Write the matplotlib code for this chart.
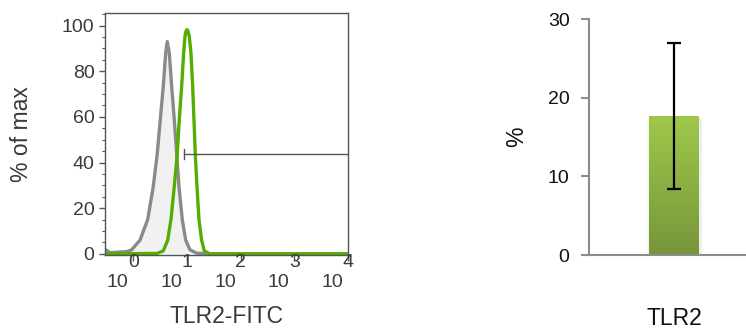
import numpy as np
import matplotlib
matplotlib.use("Agg")
import matplotlib.pyplot as plt
from matplotlib.transforms import blended_transform_factory

plt.rcParams['font.family'] = ['Liberation Sans', 'DejaVu Sans']

# Histogram traces (fluorescence intensity, % of max)
iso_x = [0.297, 0.368, 0.565, 0.763, 0.934, 1.333, 1.854, 2.357, 2.798, 3.184,
         3.621, 4.012, 4.297, 4.682, 5.189, 5.801, 6.431, 7.096, 8.176, 9.459,
         11.37, 15.16, 30.0, 10000]
iso_y = [2.0, 0.5, 0.8, 1.0, 1.8, 6, 15, 29.5, 44, 58.8,
         73.4, 88, 93, 88, 73.4, 58.8, 44, 29.5, 15, 6,
         1.8, 0.3, 0, 0]

tlr2_x = [0.297, 2.8, 3.621, 4.371, 5.035, 5.801, 6.598, 7.188, 7.966, 8.680,
          9.180, 9.6, 10.0, 10.45, 11.04, 11.87, 12.77, 13.50, 14.27, 15.36,
          16.73, 18.78, 21.00, 26.81, 10000]
tlr2_y = [0, 0.2, 1.3, 6, 15, 29.5, 44, 58.8, 73.4, 88,
          95.3, 97.6, 98.2, 97.6, 95.3, 88, 73.4, 58.8, 44, 29.5,
          15, 6, 1.3, 0, 0]

gate_range = [8.9, 10000]
gate_level = 43.7

decades = [0, 1, 2, 3, 4]

# Summary bar
bar_labels = ['TLR2']
bar_means = [17.7]
bar_errs = [9.3]

fig = plt.figure(figsize=(7.46, 3.3), dpi=100)

# ---- histogram panel ----
ax = fig.add_axes([105/746, 1-255/330, 243/746, 242/330])
txt = '#3a3a3a'
ax.fill_between(iso_x, iso_y, 0, color='#f1f1f1', lw=0)
ax.plot(iso_x, iso_y, color='#8a8a8a', lw=2.4, solid_joinstyle='round')
ax.plot(tlr2_x, tlr2_y, color='#55ad00', lw=2.4, solid_joinstyle='round')
ax.plot(gate_range, [gate_level]*2, color='#555555', lw=1)
ax.plot([gate_range[0]]*2, [gate_level-2.3, gate_level+2.3], color='#555555', lw=1)

ax.set_xscale('log')
ax.set_xlim(10**-0.527, 10**4)
ax.set_ylim(-0.5, 105.5)
ax.set_yticks([0, 20, 40, 60, 80, 100])
ax.set_yticks(np.arange(0, 106, 5), minor=True)
ax.set_xticks([10**d for d in decades])
ax.set_xticklabels([''] * len(decades))
ax.xaxis.set_minor_locator(matplotlib.ticker.LogLocator(base=10, subs=np.arange(2, 10)))
ax.xaxis.set_minor_formatter(matplotlib.ticker.NullFormatter())
ax.tick_params(axis='both', which='major', length=4.5, width=1, color='#555555',
               labelsize=14, labelcolor=txt, pad=3)
ax.tick_params(axis='both', which='minor', length=2.5, width=0.8, color='#555555')
for s in ax.spines.values():
    s.set_color('#555555')
    s.set_linewidth(1)

tr = blended_transform_factory(ax.transData, ax.transAxes)
for d in decades:
    ax.annotate('10', xy=(10**d, 0), xycoords=tr, xytext=(-3.5, -20),
                textcoords='offset points', ha='right', va='center',
                fontsize=14, color=txt, annotation_clip=False)
    ax.annotate(str(d), xy=(10**d, 0), xycoords=tr, xytext=(0, -5.5),
                textcoords='offset points', ha='center', va='center',
                fontsize=14, color=txt, annotation_clip=False)

ax.set_xlabel('TLR2-FITC', fontsize=16.5, color=txt, va='center')
ax.xaxis.set_label_coords(0.5, -0.256)
ax.set_ylabel('% of max', fontsize=16.5, color=txt, va='center')
ax.yaxis.set_label_coords(-0.342, 0.5)

# ---- bar panel ----
bx = fig.add_axes([589/746, 1-255/330, 157/746, 236/330])
xpos = np.arange(len(bar_labels))
w = 0.6
bars = bx.bar(xpos, bar_means, width=w, color='none', zorder=2)

# soft shadow at the sides of the bar
for b, m in zip(xpos, bar_means):
    for k in range(1, 4):
        dx = 0.012 * k
        bx.add_patch(plt.Rectangle((b - w/2 - dx + 0.01, 0), w + 2*dx, m - 0.3,
                                   color='#000000', alpha=0.025, lw=0, zorder=1))

# vertical gradient fill
grad = np.linspace(0, 1, 256).reshape(-1, 1)
cmap = matplotlib.colors.LinearSegmentedColormap.from_list('g', ['#77963a', '#9fc84b'])
for rect in bars:
    x0, y0 = rect.get_x(), rect.get_y()
    im = bx.imshow(grad, cmap=cmap, aspect='auto', origin='lower', zorder=2,
                   extent=[x0, x0 + rect.get_width(), y0, y0 + rect.get_height()])
    im.set_clip_path(rect)

bx.errorbar(xpos, bar_means, yerr=bar_errs, fmt='none', ecolor='black',
            elinewidth=1.6, capsize=4.8, capthick=1.6, zorder=3)

bx.set_xlim(-1.02, 0.864)
bx.set_ylim(0, 30)
bx.set_yticks([0, 10, 20, 30])
bx.set_xticks([])
bx.spines['top'].set_visible(False)
bx.spines['right'].set_visible(False)
for s in ['left', 'bottom']:
    bx.spines[s].set_color('#8c8c8c')
    bx.spines[s].set_linewidth(1.5)
bx.tick_params(axis='y', length=6, width=1.5, color='#8c8c8c', labelsize=14,
               labelcolor='#111111', pad=8)
bx.set_xlabel(bar_labels[0], fontsize=16.5, color='#111111', va='center')
bx.xaxis.set_label_coords((674-589)/157, -0.267)
bx.set_ylabel('%', fontsize=16.5, color='#111111', va='center')
bx.yaxis.set_label_coords(-0.459, 0.5)

fig.savefig('out.png', dpi=100)
